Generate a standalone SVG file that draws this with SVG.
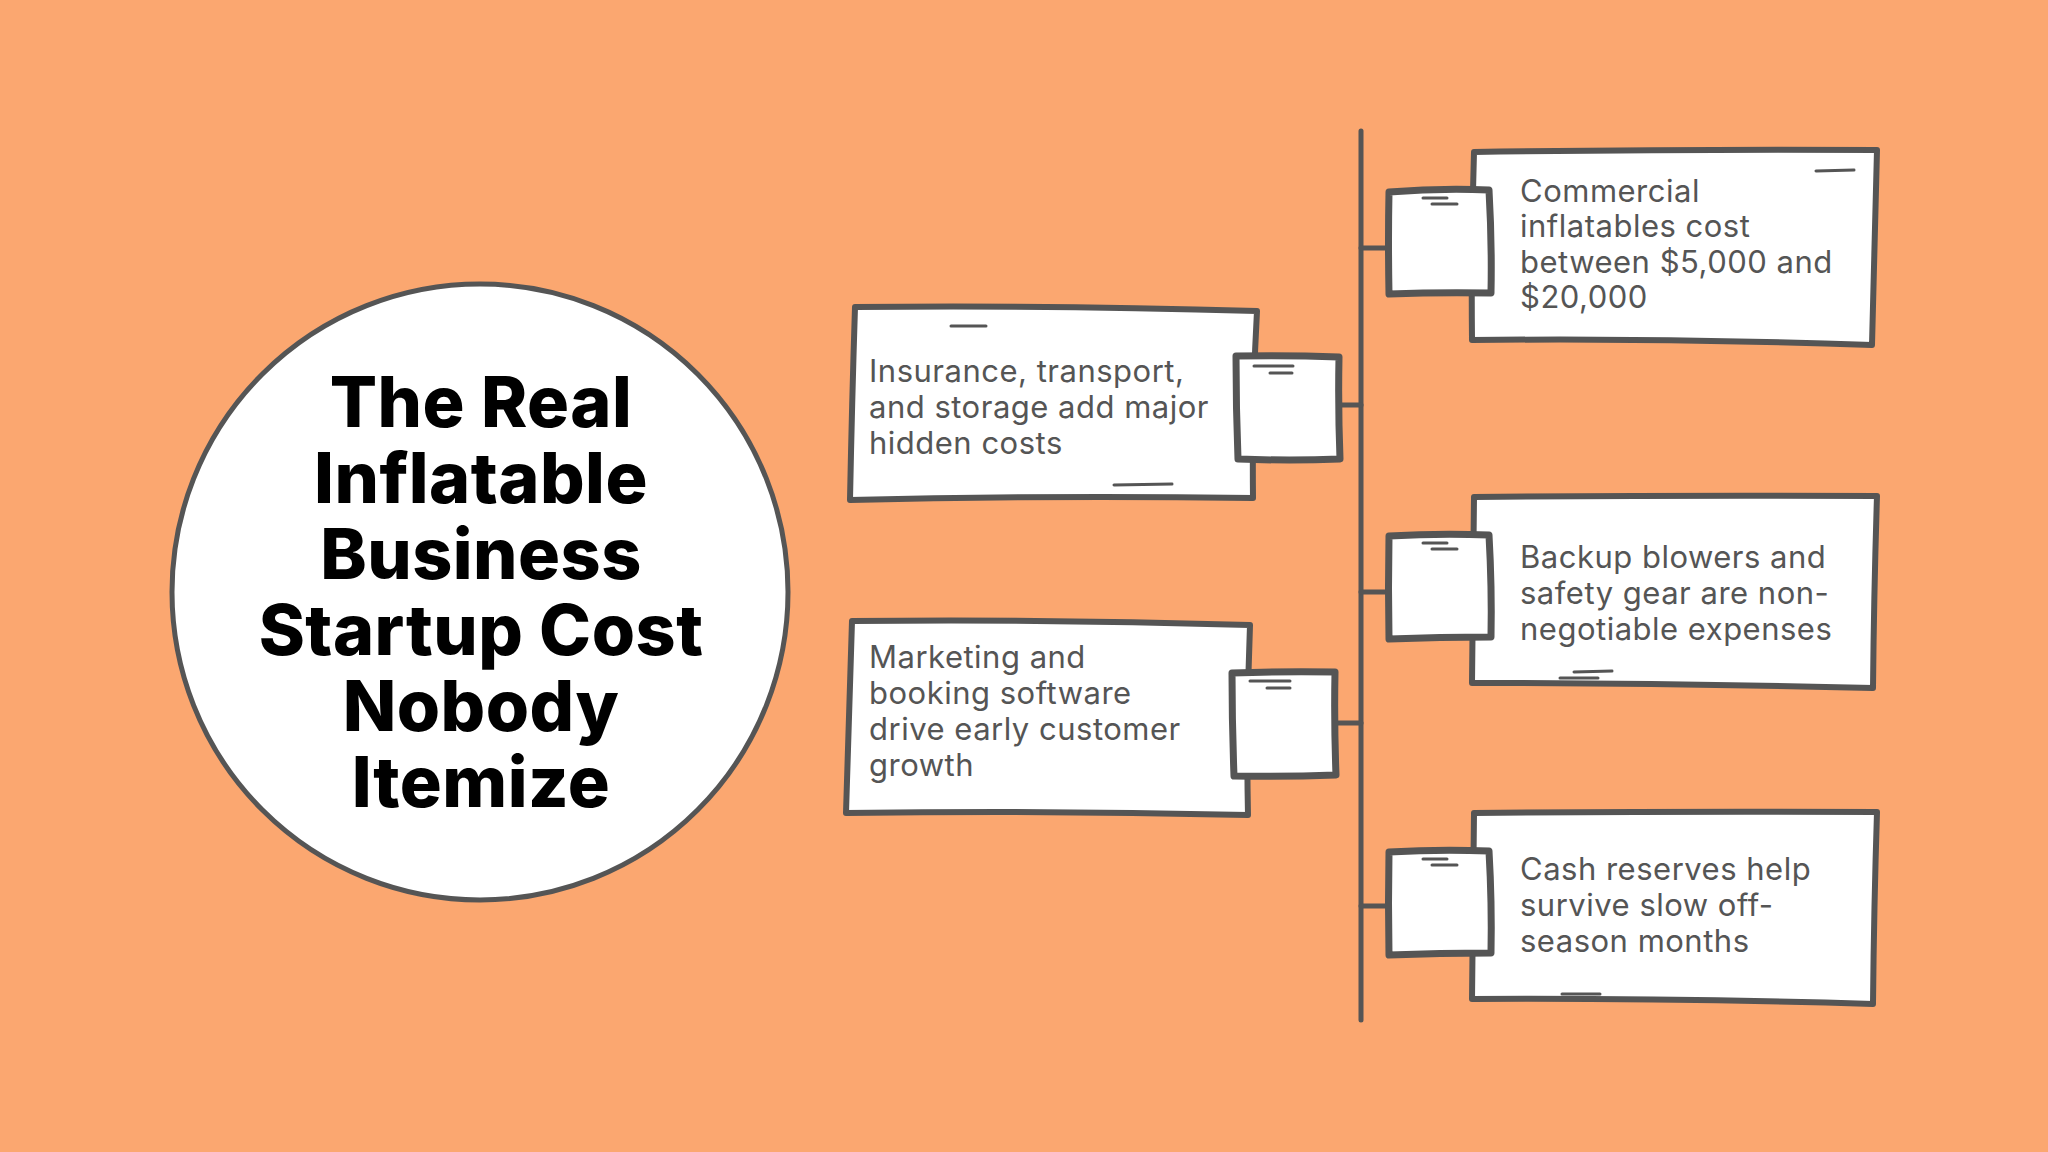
<svg xmlns="http://www.w3.org/2000/svg" width="2048" height="1152" viewBox="0 0 2048 1152">
<style>
.ln{fill:none;stroke:#555555;stroke-width:5;stroke-linecap:round;stroke-linejoin:round}
.bx{fill:#ffffff;stroke:#555555;stroke-width:6;stroke-linejoin:round;stroke-linecap:round}
.sq{fill:#ffffff;stroke:#555555;stroke-width:7;stroke-linejoin:round;stroke-linecap:round}
.ds{fill:none;stroke:#555555;stroke-width:3;stroke-linecap:round}
.tx{font-family:Inter,"Open Sans","Liberation Sans",sans-serif;font-size:31px;letter-spacing:0.5px;fill:#555555}
.ti{font-family:Inter,"Open Sans","Liberation Sans",sans-serif;font-size:70px;font-weight:800;letter-spacing:0.5px;fill:#000000;text-anchor:middle}
</style>
<rect width="2048" height="1152" fill="#FBA770"/>

<g id="connectors">
<line class="ln" x1="1361" y1="131" x2="1361" y2="1020"/>
<line class="ln" x1="1361" y1="248" x2="1390" y2="248"/>
<line class="ln" x1="1361" y1="592" x2="1390" y2="592"/>
<line class="ln" x1="1361" y1="906" x2="1390" y2="906"/>
<line class="ln" x1="1337" y1="405" x2="1361" y2="405"/>
<line class="ln" x1="1334" y1="723" x2="1361" y2="723"/>
</g>

<g id="title">
<circle cx="480" cy="592" r="308" fill="#ffffff" stroke="#555555" stroke-width="5"/>
<text class="ti" x="481" y="427">The Real</text>
<text class="ti" x="481" y="503">Inflatable</text>
<text class="ti" x="481" y="579">Business</text>
<text class="ti" x="481" y="655">Startup Cost</text>
<text class="ti" x="481" y="731">Nobody</text>
<text class="ti" x="481" y="807">Itemize</text>
</g>

<g id="node-commercial">
<path class="bx" d="M1474 152 Q1680 149 1877 150 Q1874 250 1872 345 Q1670 338 1472 340 Q1471 250 1474 152 Z"/>
<line class="ds" x1="1816" y1="171" x2="1854" y2="170"/>
<path class="sq" d="M1389 192 Q1440 188 1489 190 Q1492 242 1491 293 Q1440 292 1389 294 Q1388 240 1389 192 Z"/>
<line class="ds" x1="1423" y1="198" x2="1447" y2="198"/>
<line class="ds" x1="1432" y1="204" x2="1457" y2="204"/>
<text class="tx" x="1520" y="202">Commercial</text>
<text class="tx" x="1520" y="237">inflatables cost</text>
<text class="tx" x="1520" y="273">between $5,000 and</text>
<text class="tx" x="1520" y="308">$20,000</text>
</g>

<g id="node-insurance">
<path class="bx" d="M855 307 Q1050 305 1257 311 Q1252 400 1253 498 Q1050 495 850 500 Q852 400 855 307 Z"/>
<line class="ds" x1="951" y1="326" x2="986" y2="326"/>
<line class="ds" x1="1114" y1="485" x2="1172" y2="484"/>
<path class="sq" d="M1236 356 Q1290 355 1339 357 Q1338 408 1340 459 Q1290 461 1238 459 Q1236 408 1236 356 Z"/>
<line class="ds" x1="1254" y1="366" x2="1293" y2="366"/>
<line class="ds" x1="1270" y1="373" x2="1292" y2="373"/>
<text class="tx" x="869" y="382">Insurance, transport,</text>
<text class="tx" x="869" y="418">and storage add major</text>
<text class="tx" x="869" y="454">hidden costs</text>
</g>

<g id="node-backup">
<path class="bx" d="M1474 497 Q1680 495 1877 496 Q1874 590 1873 688 Q1670 683 1472 683 Q1473 590 1474 497 Z"/>
<line class="ds" x1="1574" y1="672" x2="1612" y2="671"/>
<line class="ds" x1="1560" y1="678" x2="1598" y2="678"/>
<path class="sq" d="M1389 536 Q1440 533 1489 535 Q1492 588 1491 637 Q1440 637 1389 639 Q1388 588 1389 536 Z"/>
<line class="ds" x1="1423" y1="543" x2="1447" y2="543"/>
<line class="ds" x1="1432" y1="549" x2="1457" y2="549"/>
<text class="tx" x="1520" y="568">Backup blowers and</text>
<text class="tx" x="1520" y="604">safety gear are non-</text>
<text class="tx" x="1520" y="640">negotiable expenses</text>
</g>

<g id="node-marketing">
<path class="bx" d="M852 621 Q1050 619 1250 625 Q1246 720 1248 815 Q1050 810 846 813 Q849 720 852 621 Z"/>
<path class="sq" d="M1232 673 Q1285 671 1335 672 Q1334 723 1336 775 Q1285 777 1234 776 Q1232 723 1232 673 Z"/>
<line class="ds" x1="1250" y1="681" x2="1290" y2="681"/>
<line class="ds" x1="1267" y1="688" x2="1290" y2="688"/>
<text class="tx" x="869" y="668">Marketing and</text>
<text class="tx" x="869" y="704">booking software</text>
<text class="tx" x="869" y="740">drive early customer</text>
<text class="tx" x="869" y="776">growth</text>
</g>

<g id="node-cash">
<path class="bx" d="M1474 813 Q1680 811 1877 812 Q1874 905 1873 1004 Q1670 998 1472 999 Q1473 905 1474 813 Z"/>
<line class="ds" x1="1562" y1="994" x2="1600" y2="994"/>
<path class="sq" d="M1389 852 Q1440 849 1489 851 Q1492 903 1491 953 Q1440 953 1389 955 Q1388 903 1389 852 Z"/>
<line class="ds" x1="1423" y1="859" x2="1447" y2="859"/>
<line class="ds" x1="1432" y1="865" x2="1457" y2="865"/>
<text class="tx" x="1520" y="880">Cash reserves help</text>
<text class="tx" x="1520" y="916">survive slow off-</text>
<text class="tx" x="1520" y="952">season months</text>
</g>
</svg>
